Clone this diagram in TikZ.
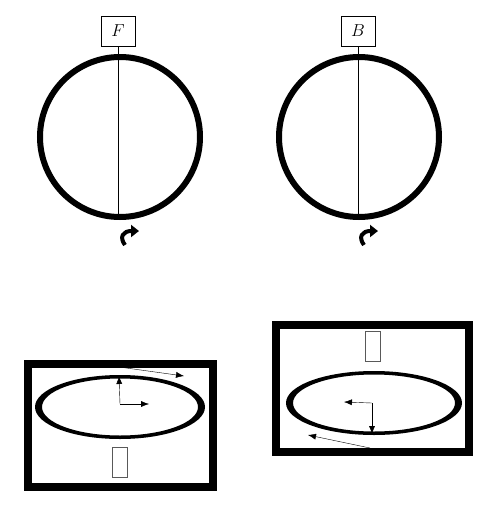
\documentclass[tikz,border=0pt]{standalone}
\usepackage{tikz}
\usetikzlibrary{arrows.meta,shapes}
\tikzset{>={Latex[width=6pt,length=8pt]}}
\tikzset{
  tag/.style={draw, thick, minimum width=34pt, minimum height=30pt, inner sep=0pt, font=\LARGE},
  slot/.style={draw=gray!70!black, thin, minimum width=15pt, minimum height=30pt, inner sep=0pt},
  frame/.style={line width=7.5pt},
  wheel/.style={line width=6pt},
  turn/.style={line width=4pt, -{Triangle[width=12pt,length=8pt]}},
}

\begin{document}
\begin{tikzpicture}[x=1pt,y=-1pt]
  \useasboundingbox (0,0) rectangle (500,509);

  \newcommand\Rw{80}

  % upper wheels with their tags
  \draw[wheel] (120,137) circle (\Rw);
  \draw[wheel] (359,137) circle (\Rw);

  \node[tag] (F) at (118,31) {$F$};
  \node[tag] (B) at (358,31) {$B$};
  \coordinate (Fbot) at (119,217);
  \coordinate (Bbot) at (359,217);
  \draw (F.south) -- (F.south |- Fbot);
  \draw (B.south) -- (B.south |- Bbot);

  \draw[turn] (125,245) .. controls (119,237) and (123,231) .. (139,231);
  \draw[turn] (364,245) .. controls (358,237) and (362,231) .. (378,231);

  % lower left view
  \draw[frame] (28,364) rectangle (213,487);
  \fill[even odd rule] (120,407) ellipse [x radius=85, y radius=32]
                       (120,407) ellipse [x radius=78, y radius=28.5];
  \node[slot] (sL) at (119.5,462) {};
  \coordinate (oL) at (120,404);
  \draw[->] (oL) -- (119,376);
  \draw[->] (oL) -- (149,404);
  \draw[->] (119,367) -- (184,376);

  % lower right view
  \draw[frame] (276,325) rectangle (469,452);
  \fill[even odd rule] (374,403) ellipse [x radius=88, y radius=32]
                       (374,403) ellipse [x radius=81, y radius=28.5];
  \node[slot] (sR) at (373,346.5) {};
  \coordinate (oR) at (372,403);
  \draw[->] (oR) -- (344,402);
  \draw[->] (oR) -- (372,434);
  \draw[->] (370,448) -- (308,435);
\end{tikzpicture}
\end{document}
